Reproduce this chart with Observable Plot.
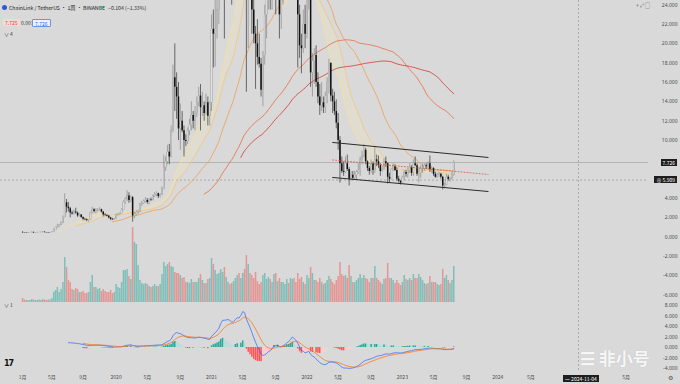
<!DOCTYPE html>
<html><head><meta charset="utf-8">
<script src="https://cdn.jsdelivr.net/npm/d3@7"></script>
<script src="https://cdn.jsdelivr.net/npm/@observablehq/plot@0.6"></script>
<style>
html,body{margin:0;padding:0;background:#d9d9d9;}
#wrap{position:relative;width:680px;height:384px;overflow:hidden;background:#d9d9d9;font-family:"Noto Sans CJK SC","Noto Sans",sans-serif;}
#wrap svg{position:absolute;left:0;top:0;}
.t{position:absolute;white-space:nowrap;line-height:1;}
</style></head><body><div id="wrap"></div>
<script>
// ---- data (weekly LINK/USDT, Binance) ----
const startDate = "2019-01-14";
const firstOpen = 0.50;
const close = [
.46,.44,.42,.45,.46,.50,.44,.46,.48,.50,
.48,.52,.47,.45,.44,.48,.52,.72,.98,1.10,
1.25,1.45,2.05,3.55,3.10,2.95,2.50,2.40,2.60,2.50,
2.20,2.30,2.05,1.85,1.80,1.72,1.78,2.50,2.85,2.65,
2.75,2.80,2.85,2.60,2.30,2.25,2.18,2.00,1.85,1.80,
1.90,2.25,2.35,2.45,2.80,3.60,3.90,4.25,3.80,4.10,
2.20,2.35,2.55,2.60,3.40,3.50,3.70,3.80,3.60,3.90,
3.85,4.25,4.40,4.50,4.20,4.40,4.95,7.20,7.80,8.80,
8.30,11.0,16.5,15.5,14.5,11.2,12.0,11.0,10.0,9.90,
11.0,11.6,12.6,12.0,12.8,13.9,14.6,13.4,13.6,12.8,
13.9,12.5,13.9,21.5,21.0,21.5,23.5,26.5,33.0,33.2,
28.0,29.0,30.5,28.0,26.5,31.0,37.0,37.5,34.0,42.0,
47.0,38.0,26.0,28.5,27.0,23.5,21.0,20.0,18.6,17.9,
15.2,18.8,23.0,24.5,26.5,25.5,27.0,31.5,26.5,27.5,
23.0,25.0,28.0,28.5,31.0,30.5,33.5,36.0,28.0,27.0,
23.0,19.8,19.5,22.0,21.0,25.0,25.8,17.0,18.2,18.8,
16.0,14.5,13.6,13.9,13.4,14.6,16.0,18.0,14.6,14.0,
13.0,11.8,10.0,7.6,6.8,6.7,7.6,7.0,6.0,6.4,
6.1,6.4,6.7,6.9,8.0,8.4,9.0,7.8,7.1,6.8,
7.6,6.9,8.0,7.8,7.4,6.8,7.0,7.8,7.6,6.2,
6.0,7.0,7.3,6.9,6.0,5.8,5.6,6.2,6.7,6.5,
6.9,7.2,6.6,7.6,7.4,6.5,6.6,7.0,7.1,7.4,
7.3,7.6,7.0,7.1,6.5,6.2,6.4,6.5,6.2,5.3,
5.4,6.2,6.0,6.1,6.4,7.7];
const high = [
.56,.48,.46,.47,.49,.56,.52,.48,.50,.52,
.52,.58,.55,.49,.47,.50,.56,.85,1.05,1.35,
1.30,1.60,2.20,4.50,3.90,3.60,3.10,2.70,2.80,3.00,
2.60,2.45,2.35,2.10,1.95,1.90,1.80,2.60,3.10,2.95,
2.95,2.95,3.05,2.90,2.65,2.45,2.35,2.25,2.05,1.95,
1.95,2.40,2.45,2.55,2.95,3.75,4.10,4.80,4.60,4.30,
4.20,2.60,2.75,2.80,3.50,3.70,3.85,4.10,4.00,4.00,
4.05,4.35,4.60,4.70,4.55,4.50,5.20,8.50,8.30,9.50,
9.60,11.5,17.8,20.0,17.0,16.0,13.8,13.0,11.5,10.6,
11.3,12.2,14.0,13.0,13.5,14.5,15.5,15.8,15.0,14.0,
14.8,14.5,14.0,23.0,23.5,24.8,25.5,27.5,35.0,36.9,
34.0,30.5,32.0,31.5,30.0,32.5,38.5,44.0,39.5,44.0,
52.9,52.0,40.0,33.0,34.0,30.0,28.0,21.8,22.5,21.0,
18.5,19.2,24.0,25.5,29.0,28.5,28.5,35.0,34.5,30.0,
29.5,26.0,29.0,30.0,34.0,33.0,38.0,38.0,36.0,30.0,
28.0,24.0,21.0,23.5,24.0,27.0,28.5,26.5,19.0,19.5,
19.8,17.0,15.8,16.0,14.5,15.0,16.5,18.4,18.0,15.3,
15.0,14.2,12.8,10.4,8.3,7.8,8.3,8.5,7.2,6.8,
6.8,6.8,6.9,7.6,8.3,8.9,9.6,9.2,7.9,7.3,
8.0,7.8,9.4,8.5,8.4,7.6,7.4,8.1,8.3,7.7,
6.6,7.1,7.6,7.5,7.2,6.3,5.8,6.3,6.9,6.9,
7.1,7.6,7.4,8.0,8.3,7.6,7.2,7.4,7.6,7.6,
7.6,7.8,8.4,7.3,7.2,6.7,6.6,6.7,6.6,6.3,
5.6,6.5,6.4,6.2,6.7,7.9];
const low = [
.42,.42,.40,.41,.44,.45,.42,.43,.45,.46,
.46,.47,.46,.44,.40,.43,.46,.50,.70,.90,
1.00,1.20,1.40,2.00,2.50,2.60,2.00,2.30,2.30,2.40,
2.05,2.10,1.95,1.70,1.70,1.60,1.55,1.75,2.40,2.50,
2.40,2.60,2.70,2.50,2.10,2.15,2.10,1.90,1.70,1.75,
1.72,1.85,2.15,2.25,2.40,2.75,3.40,3.70,3.50,3.60,
1.55,1.90,2.20,2.35,2.55,3.20,3.40,3.55,3.40,3.35,
3.70,3.75,4.10,4.20,4.00,4.05,4.30,4.90,6.80,7.50,
7.50,8.20,10.8,13.0,12.2,10.0,9.00,10.8,8.30,9.40,
9.60,10.5,11.0,11.2,11.0,12.4,13.5,11.0,12.5,12.0,
12.6,11.5,11.5,13.0,17.5,17.6,20.5,22.0,25.0,29.0,
20.5,24.5,27.0,26.5,24.0,26.0,30.5,34.0,25.0,32.0,
40.0,35.0,15.0,19.5,25.0,21.0,20.0,15.3,17.8,17.5,
14.5,13.5,17.8,20.5,23.5,23.5,23.5,26.0,23.0,25.0,
20.5,21.5,24.0,25.5,27.5,27.0,29.0,31.0,26.5,24.5,
17.5,18.5,16.9,19.0,19.5,20.5,23.5,15.5,14.5,15.8,
15.5,13.8,12.6,13.0,12.8,12.8,13.8,14.8,14.0,12.8,
12.6,11.2,9.0,5.6,6.6,6.3,6.6,6.8,5.3,5.8,
5.9,5.9,5.9,6.5,6.3,7.5,8.2,7.5,6.8,6.4,
6.6,6.4,6.6,7.3,7.1,6.3,6.7,6.9,7.2,5.5,
5.6,5.9,6.8,6.8,5.8,5.6,5.4,5.5,5.9,6.2,
6.1,6.6,6.3,6.3,7.3,6.3,5.6,6.1,6.6,6.8,
7.0,7.1,6.7,6.6,6.3,6.1,6.1,6.2,6.0,4.9,
5.0,5.3,5.8,5.7,5.9,6.3];
// weekly volume, millions of LINK
const volume = [
8,5,4,4,4,6,5,4,4,5,
4,6,5,4,5,5,8,20,24,30,
20,26,40,90,70,44,40,26,24,28,
26,20,20,22,18,18,20,40,54,30,
30,26,28,22,26,22,20,20,24,18,
20,36,30,28,40,64,64,66,52,46,
150,120,116,74,44,38,36,38,36,32,
30,32,36,32,32,36,56,80,72,76,
80,72,70,60,58,58,54,48,50,40,
40,38,46,40,40,40,48,56,44,38,
38,46,48,88,76,64,56,58,66,60,
70,50,40,36,38,42,48,54,58,48,
58,66,94,76,58,54,48,60,42,36,
40,54,58,46,50,46,40,56,58,42,
48,40,40,36,46,38,48,46,48,40,
58,46,50,40,36,54,48,70,58,44,
44,40,48,40,36,38,44,52,46,40,
36,44,52,80,56,52,54,48,74,52,
40,40,44,48,56,48,54,48,46,40,
48,48,72,48,44,40,36,46,48,78,
48,48,44,38,44,38,34,40,54,46,
44,48,44,56,48,48,56,50,44,38,
36,38,52,40,40,40,36,34,36,66,
48,54,44,38,44,72];

const maPeriods = [20, 30, 50, 100, 120];
const maColors  = ["#f4dfa0", "#f1c783", "#eea259", "#e6714b", "#d4403b"];

const priceTicks = [-6,-4,-2,0,2,4,10,12,14,16,18,20,22,24];
const macdTicks  = [-4,-2,0,2,4,6,8];
const xLabels = [
 ["2019-01-14","1月"],["2019-05-06","5月"],["2019-09-02","9月"],
 ["2020-01-06","2020"],["2020-05-04","5月"],["2020-09-07","9月"],
 ["2021-01-04","2021"],["2021-05-03","5月"],["2021-09-06","9月"],
 ["2022-01-03","2022"],["2022-05-02","5月"],["2022-09-05","9月"],
 ["2023-01-02","2023"],["2023-05-01","5月"],["2023-09-04","9月"],
 ["2024-01-01","2024"],["2024-05-06","5月"],["2025-05-05","5月"]];

// drawn parallel channel (date, price)
const channelUpper = [["2022-04-11", 9.80], ["2023-11-25", 8.25]];
const channelLower = [["2022-04-11", 6.18], ["2023-11-25", 4.73]];
const channelMid   = [["2022-04-11", 7.99], ["2023-11-25", 6.49]];

const lastPrice = 7.726;
const crossPrice = 5.909;
const crossDate = "2024-11-04";

// ---- build rows ----
const t0 = new Date(startDate + "T00:00:00Z");
const rows = close.map((c, i) => ({
  date: d3.utcDay.offset(t0, 7 * i),
  open: i === 0 ? firstOpen : close[i - 1],
  high: high[i], low: low[i], close: c, volume: volume[i]
}));
rows.forEach(r => r.up = r.close >= r.open);

function sma(arr, n) {
  return arr.map((_, i) => i < n - 1 ? null : d3.mean(arr.slice(i - n + 1, i + 1)));
}
function ema(arr, n) {
  const out = arr.map(() => null);
  const f = arr.findIndex(v => v != null);
  if (f < 0 || f + n - 1 >= arr.length) return out;
  const k = 2 / (n + 1);
  let prev = d3.mean(arr.slice(f, f + n));
  out[f + n - 1] = prev;
  for (let i = f + n; i < arr.length; i++) { prev = arr[i] * k + prev * (1 - k); out[i] = prev; }
  return out;
}
maPeriods.forEach(p => { const m = sma(close, p); rows.forEach((r, i) => r["ma" + p] = m[i]); });
const e12 = ema(close, 12), e26 = ema(close, 26);
const macd = close.map((_, i) => (e12[i] != null && e26[i] != null) ? e12[i] - e26[i] : null);
const sig = ema(macd, 9);
rows.forEach((r, i) => {
  r.macd = macd[i]; r.signal = sig[i];
  r.hist = (macd[i] != null && sig[i] != null) ? macd[i] - sig[i] : null;
});
rows.forEach((r, i) => {
  if (r.hist == null) return;
  const prev = i > 0 && rows[i - 1].hist != null ? rows[i - 1].hist : r.hist;
  r.histColor = r.hist >= 0 ? (r.hist >= prev ? "#26a69a" : "#b2dfdb") : (r.hist <= prev ? "#ff5252" : "#ffcdd2");
});

const toRows = arr => arr.map(([d, p]) => ({date: new Date(d + "T00:00:00Z"), price: p}));
const W = 680, H = 384;
const xOpt = {type: "utc", domain: [new Date("2018-10-22T00:00:00Z"), new Date("2025-07-29T00:00:00Z")], axis: null};
const bg = {background: "transparent", overflow: "visible"};
const axisText = {fontSize: 5, fill: "#4d4d4d", fontFamily: "Noto Sans, sans-serif"};

// ---- volume layer ----
const volPlot = Plot.plot({
  width: W, height: H, marginTop: 2, marginBottom: 82, marginLeft: 0, marginRight: 32,
  x: xOpt, y: {domain: [0, 600], axis: null}, style: bg,
  marks: [
    Plot.ruleX(rows, {x: "date", y1: 0, y2: "volume", stroke: d => d.up ? "#26a69a" : "#ef5350", strokeOpacity: 0.5, strokeWidth: 1.5})
  ]
});

// ---- main price layer ----
const up = rows.filter(r => r.up), dn = rows.filter(r => !r.up);
const ma20_30 = rows.filter(r => r.ma30 != null);
const mainPlot = Plot.plot({
  width: W, height: H, marginTop: 0, marginBottom: 84, marginLeft: 0, marginRight: 32,
  x: xOpt, y: {domain: [-6.547, 24.486], axis: null}, style: bg,
  marks: [
    Plot.ruleY([lastPrice], {stroke: "#9b9b9b", strokeWidth: 0.6}),
    Plot.ruleY([crossPrice], {stroke: "#8a8a8a", strokeWidth: 0.6, strokeDasharray: "2,2"}),
    Plot.ruleX([new Date(crossDate + "T00:00:00Z")], {stroke: "#8a8a8a", strokeWidth: 0.6, strokeDasharray: "2,2"}),
    Plot.areaY(ma20_30, {x: "date", y1: "ma20", y2: "ma30", fill: "#f3e6b8", fillOpacity: 0.3, clip: true}),
    ...maPeriods.map((p, k) => Plot.lineY(rows.filter(r => r["ma" + p] != null), {x: "date", y: "ma" + p, stroke: maColors[k], strokeWidth: 0.85, clip: true})),
    Plot.ruleX(dn, {x: "date", y1: "low", y2: "high", stroke: "#1a1a1a", strokeWidth: 0.6, clip: true}),
    Plot.ruleX(up, {x: "date", y1: "low", y2: "high", stroke: "#7a7a7a", strokeWidth: 0.6, clip: true}),
    Plot.ruleX(up, {x: "date", y1: "open", y2: "close", stroke: "#7a7a7a", strokeWidth: 1.6, clip: true}),
    Plot.ruleX(up, {x: "date", y1: "open", y2: "close", stroke: "#ffffff", strokeWidth: 0.8, clip: true}),
    Plot.ruleX(dn, {x: "date", y1: "open", y2: "close", stroke: "#111111", strokeWidth: 1.5, clip: true}),
    Plot.line(toRows(channelUpper), {x: "date", y: "price", stroke: "#2b2b2b", strokeWidth: 1}),
    Plot.line(toRows(channelLower), {x: "date", y: "price", stroke: "#2b2b2b", strokeWidth: 1}),
    Plot.line(toRows(channelMid), {x: "date", y: "price", stroke: "#c85a4a", strokeWidth: 0.8, strokeDasharray: "1,2"}),
    Plot.text(priceTicks, {y: d => d, text: d => d.toFixed(3), frameAnchor: "right", textAnchor: "end", dx: 29, ...axisText})
  ]
});

// ---- MACD layer ----
const macdRows = rows.filter(r => r.macd != null);
const sigRows = rows.filter(r => r.signal != null);
const macdPlot = Plot.plot({
  width: W, height: H, marginTop: 300, marginBottom: 12, marginLeft: 0, marginRight: 32,
  x: xOpt, y: {domain: [-4.762, 8.952], axis: null}, style: bg,
  marks: [
    Plot.ruleX([new Date(crossDate + "T00:00:00Z")], {stroke: "#8a8a8a", strokeWidth: 0.6, strokeDasharray: "2,2"}),
    Plot.ruleX(sigRows, {x: "date", y1: 0, y2: "hist", stroke: "histColor", strokeWidth: 1.5}),
    Plot.lineY(macdRows, {x: "date", y: "macd", stroke: "#2962ff", strokeWidth: 0.7}),
    Plot.lineY(sigRows, {x: "date", y: "signal", stroke: "#ff6d00", strokeWidth: 0.7}),
    Plot.text(macdTicks, {y: d => d, text: d => d.toFixed(3), frameAnchor: "right", textAnchor: "end", dx: 29, ...axisText}),
    Plot.text(xLabels, {x: d => new Date(d[0] + "T00:00:00Z"), text: d => d[1], frameAnchor: "bottom", dy: 6, ...axisText, fontFamily: "Noto Sans CJK SC, sans-serif"})
  ]
});

const wrap = document.getElementById("wrap");
wrap.appendChild(volPlot);
wrap.appendChild(mainPlot);
wrap.appendChild(macdPlot);

// ---- HTML overlays (header, badges, watermark) ----
function el(text, css) {
  const d = document.createElement("div");
  d.className = "t"; d.textContent = text;
  Object.assign(d.style, css); wrap.appendChild(d); return d;
}
const ys = mainPlot.scale("y"), xs = mainPlot.scale("x");
const yPx = v => ys.apply ? ys.apply(v) : d3.scaleLinear(ys.domain, ys.range)(v);
const xPx = v => xs.apply ? xs.apply(v) : d3.scaleUtc(xs.domain, xs.range)(v);

el("", {left: "2px", top: "5px", width: "5px", height: "5px", borderRadius: "50%", background: "#2a5ada"});
el("ChainLink / TetherUS · 1周 · BINANCE", {left: "9px", top: "5px", fontSize: "5.2px", color: "#222"});
el("", {left: "100px", top: "6px", width: "3px", height: "3px", borderRadius: "50%", background: "#2dbd85"});
el("−0.104 (−1.33%)", {left: "108px", top: "5px", fontSize: "5.2px", color: "#333"});
el("7.725", {left: "3px", top: "19px", fontSize: "5px", color: "#e0463f", background: "#f6d8d6", padding: "1px 2px", borderRadius: "1px"});
el("0.001", {left: "20px", top: "19px", fontSize: "5px", color: "#444", padding: "1px 1px"});
el("7.726", {left: "32px", top: "19px", fontSize: "5px", color: "#2962ff", background: "#eef2fb", border: "0.5px solid #6f8ff0", padding: "0.5px 2px", borderRadius: "1px"});
el("∨ 4", {left: "4px", top: "31px", fontSize: "5px", color: "#444"});
el("∨ 1", {left: "4px", top: "302px", fontSize: "5px", color: "#444"});
el("+  ⤢  ▢", {left: "636px", top: "2px", fontSize: "5px", color: "#444"});

el(lastPrice.toFixed(3), {right: "3px", top: (yPx(lastPrice) - 3.5) + "px", fontSize: "5px", color: "#fff", background: "#1e1e1e", padding: "1px 2px"});
el("⊕ " + crossPrice.toFixed(3), {right: "3px", top: (yPx(crossPrice) - 3.5) + "px", fontSize: "5px", color: "#fff", background: "#1e1e1e", padding: "1px 2px"});
const cx = xPx(new Date(crossDate + "T00:00:00Z"));
el("一  " + crossDate, {left: (cx - 15) + "px", top: "375px", fontSize: "5px", color: "#fff", background: "#1e1e1e", padding: "1px 2px"});

el("17", {left: "4px", top: "360px", fontSize: "8px", fontWeight: "900", color: "#111", fontFamily: "DejaVu Sans, sans-serif", letterSpacing: "-1px"});
el("⚙", {left: "668px", top: "375px", fontSize: "6px", color: "#555"});
el("☰ 非小号", {left: "580px", top: "349px", fontSize: "17px", fontWeight: "700", color: "rgba(255,255,255,0.88)", textShadow: "0 0 1px rgba(0,0,0,0.15)"});
</script></body></html>
